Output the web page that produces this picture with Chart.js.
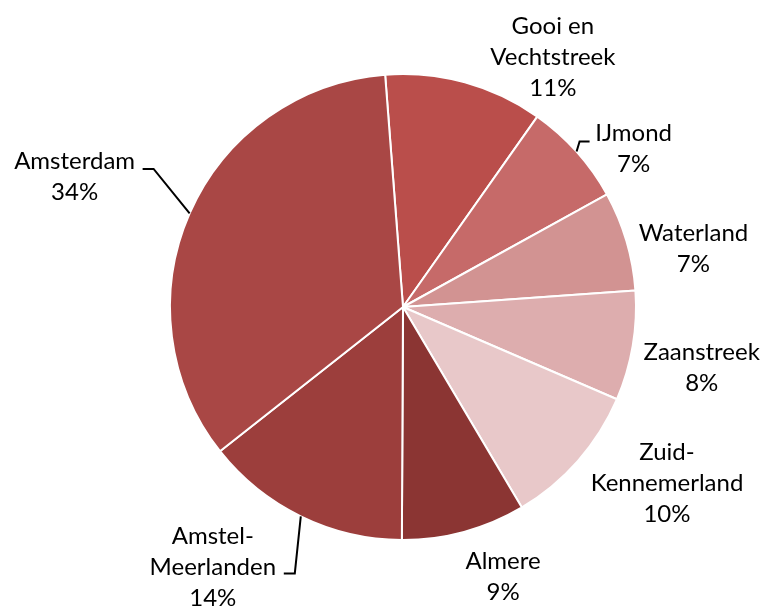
<!DOCTYPE html>
<html>
<head>
<meta charset="utf-8">
<title>Regio's</title>
<script src="https://cdn.jsdelivr.net/npm/chart.js@4/dist/chart.umd.min.js"></script>
<style>
    html, body { margin: 0; padding: 0; background: #ffffff; }
    #wrap { width: 764px; height: 608px; position: relative; }
</style>
</head>
<body>
<div id="wrap"><canvas id="pieChart"></canvas></div>
<script>
// regio's, met de klok mee vanaf boven
const regions = ['Gooi en Vechtstreek', 'IJmond', 'Waterland', 'Zaanstreek',
    'Zuid-Kennemerland', 'Almere', 'Amstel-Meerlanden', 'Amsterdam'];
const shares = [11.0, 7.2, 6.9, 7.6, 10.0, 8.6, 14.3, 34.4];
const shareLabels = ['11%', '7%', '7%', '8%', '10%', '9%', '14%', '34%'];
// regels van elk label zoals ze afgebroken zijn
const labelLines = [
    ['Gooi en', 'Vechtstreek'],
    ['IJmond'],
    ['Waterland'],
    ['Zaanstreek'],
    ['Zuid-', 'Kennemerland'],
    ['Almere'],
    ['Amstel-', 'Meerlanden'],
    ['Amsterdam']
];

const sliceColors = ['#BA4E4B', '#C66A69', '#D29392', '#DDADAE',
    '#E8C8C9', '#8B3533', '#9C3E3C', '#A94745'];

// plaats van het label t.o.v. de rand van de taart (midden van de hoek)
const labelOffsets = [[88, -25], [57, -3], [67, 8], [69, 22], [89, 22], [39, 45], [-88, 51], [-115, -37]];
// aanwijslijnen: [knik, eind] t.o.v. het midden van het label
const leaders = {
    1: [[-54, -7], [-44, -7]],
    6: [[82, 6], [71, 6]],
    7: [[79, -7.5], [68, -7.5]]
};

const FONT = '24px Lato, "Open Sans", sans-serif';
const LINE_H = 31;

const outsideLabels = {
    id: 'outsideLabels',
    afterDraw(chart) {
        const ctx = chart.ctx;
        const arcs = chart.getDatasetMeta(0).data;
        ctx.save();
        ctx.font = FONT;
        ctx.fillStyle = '#000000';
        ctx.textAlign = 'center';
        ctx.textBaseline = 'middle';
        arcs.forEach((arc, i) => {
            const p = arc.getProps(['x', 'y', 'startAngle', 'endAngle', 'outerRadius'], true);
            const mid = (p.startAngle + p.endAngle) / 2;
            const ex = p.x + Math.cos(mid) * p.outerRadius;
            const ey = p.y + Math.sin(mid) * p.outerRadius;
            const cx = ex + labelOffsets[i][0];
            const cy = ey + labelOffsets[i][1];

            const lines = labelLines[i].concat([shareLabels[i]]);
            const top = cy - (lines.length - 1) * LINE_H / 2;
            lines.forEach((txt, k) => ctx.fillText(txt, cx, top + k * LINE_H));

            if (leaders[i]) {
                const [knee, end] = leaders[i];
                ctx.beginPath();
                ctx.strokeStyle = '#000000';
                ctx.lineWidth = 2;
                ctx.moveTo(ex, ey);
                ctx.lineTo(cx + knee[0], cy + knee[1]);
                ctx.lineTo(cx + end[0], cy + end[1]);
                ctx.stroke();
            }
        });
        ctx.restore();
    }
};

new Chart(document.getElementById('pieChart'), {
    type: 'pie',
    data: {
        labels: regions,
        datasets: [{
            data: shares,
            backgroundColor: sliceColors,
            borderColor: '#ffffff',
            borderWidth: 2
        }]
    },
    options: {
        responsive: true,
        maintainAspectRatio: false,
        animation: false,
        rotation: -4.4,
        layout: {
            padding: { left: 169, right: 127, top: 73, bottom: 67 }
        },
        plugins: {
            legend: { display: false },
            tooltip: { enabled: false }
        }
    },
    plugins: [outsideLabels]
});
</script>
</body>
</html>
